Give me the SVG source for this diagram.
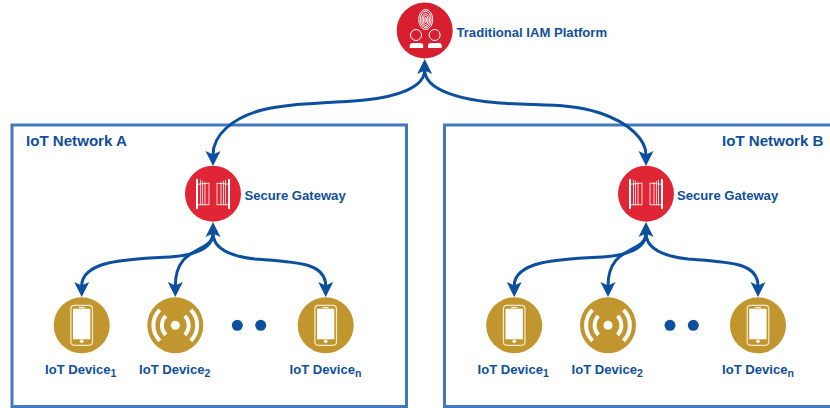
<svg xmlns="http://www.w3.org/2000/svg" width="830" height="408" viewBox="0 0 830 408">
<style>
text{font-family:"Liberation Sans",Arial,Helvetica,sans-serif;font-weight:700;fill:#0F4F9C}
.t{font-size:13.1px}.d{font-size:13.1px}.n{font-size:15.1px}.s{font-size:10.500px}
.box{fill:none;stroke:#4279BD;stroke-width:3}
.red{fill:#E02635}.gold{fill:#C2962E}
.c{fill:none;stroke:#0B4F9E;stroke-width:3}
.dot{fill:#0B4F9E}
.w{fill:none;stroke:#fff}
</style>
<defs>
<marker id="arrow" markerUnits="userSpaceOnUse" markerWidth="22" markerHeight="22" viewBox="-5 -9 22 18" refX="4" refY="0" orient="auto-start-reverse"><path d="M0 -7.500L15 0L0 7.500L3.500 0Z" fill="#0B4F9E"/></marker>
<g id="leaf">
<path d="M-17 -14.500L-15 -15L-15 15L-17 15.500Z" fill="#fff"/>
<path d="M-15 -9.500L-4 -10.500M-15 11L-4 11" class="w" stroke-width=".8"/>
<path d="M-12.500 -14V11.500M-10.500 -13V11.500M-8 -12V11.500M-4 -11V11.500" class="w" stroke-width=".8"/>
</g>
<g id="gate">
<circle r="28" class="red"/>
<use href="#leaf"/>
<use href="#leaf" transform="scale(-1 1)"/>
</g>
<g id="phone">
<circle r="28" class="gold"/>
<rect x="-10.800" y="-20" width="21.600" height="40" rx="3.500" fill="none" stroke="#F6EBCF" stroke-width="1.200"/>
<rect x="-8.700" y="-16.600" width="17.300" height="30.600" fill="#fff"/>
<rect x="-3" y="-18.200" width="6" height="1" fill="#fff"/>
<circle cy="16" r="1.800" fill="#fff"/>
</g>
<g id="radio">
<circle r="28" class="gold"/>
<circle r="4.500" fill="#fff"/>
<path d="M-9.500 -9.500A13.500 13.500 0 0 0 -9.500 9.500M9.500 -9.500A13.500 13.500 0 0 1 9.500 9.500M-15.500 -15.500A22 22 0 0 0 -15.500 15.500M15.500 -15.500A22 22 0 0 1 15.500 15.500" class="w" stroke-width="4"/>
</g>
</defs>

<g id="network-a"><rect class="box" x="12" y="125" width="394.500" height="281.500"/><text class="n" x="26" y="146">IoT Network A</text></g>
<g id="network-b"><rect class="box" x="444.500" y="125" width="400" height="281.500"/><text class="n" x="722" y="146">IoT Network B</text></g>

<g id="connectors">
<path class="c" marker-start="url(#arrow)" marker-end="url(#arrow)" d="M424.700 70C424.700 88 395 97 365 100C320 104 290 103 262 110C232 118 213 135 213 155"/>
<path class="c" marker-end="url(#arrow)" d="M424.700 70C424.700 90 460 100 500 103C540 106 570 103 600 113C630 123 646 140 646 155"/>
<path class="c" marker-start="url(#arrow)" marker-end="url(#arrow)" d="M213 233C213 248 198 255 170 257C130 259 81.700 260 81.700 286"/>
<path class="c" marker-end="url(#arrow)" d="M213 233C213 254 175.300 244 175.300 286"/>
<path class="c" marker-end="url(#arrow)" d="M213 233C213 248 228 256 255 259C295 262 325.700 262 325.700 286"/>
<path class="c" marker-start="url(#arrow)" marker-end="url(#arrow)" d="M646 233C646 248 631 255 603 257C563 259 514.200 260 514.200 286"/>
<path class="c" marker-end="url(#arrow)" d="M646 233C646 254 608 244 608 286"/>
<path class="c" marker-end="url(#arrow)" d="M646 233C646 248 661 256 688 259C728 262 758 262 758 286"/>
</g>

<g id="iam-platform">
<circle cx="424.700" cy="30.500" r="28" fill="#D81F30"/>
<g class="w" stroke-width="1"><ellipse cx="425.700" cy="19.500" rx="7" ry="10"/><ellipse cx="425.700" cy="19.500" rx="5.400" ry="8.300"/><ellipse cx="425.700" cy="20" rx="3.800" ry="6.500"/><ellipse cx="425.700" cy="20" rx="2.200" ry="4.600"/><ellipse cx="425.700" cy="20" rx=".8" ry="2.600"/></g>
<circle cx="416" cy="35" r="5.500" class="w" stroke-width="1"/>
<circle cx="434.600" cy="35" r="5.500" class="w" stroke-width="1"/>
<path d="M409.700 48V45.500Q409.700 43 412.500 43H420.500Q423.200 43 423.200 45.500V48Z" fill="#fff"/>
<path d="M428 48V45.500Q428 43 430.800 43H439Q441.700 43 441.700 45.500V48Z" fill="#fff"/>
<text class="t" x="456.500" y="36.500">Traditional IAM Platform</text>
</g>

<g id="gateway-a"><use href="#gate" x="213" y="193.700"/><text class="d" x="244.500" y="200">Secure Gateway</text></g>
<g id="gateway-b"><use href="#gate" x="646" y="193.700"/><text class="d" x="677" y="200">Secure Gateway</text></g>

<g id="device-a1"><use href="#phone" x="81.700" y="325.300"/><text class="d" x="45" y="373.500">IoT Device<tspan class="s" dy="3">1</tspan></text></g>
<g id="device-a2"><use href="#radio" x="175.300" y="325.300"/><text class="d" x="139" y="373.500">IoT Device<tspan class="s" dy="3">2</tspan></text></g>
<g id="dots-a"><circle class="dot" cx="237.300" cy="325.300" r="5.500"/><circle class="dot" cx="260.700" cy="325.300" r="5.500"/></g>
<g id="device-an"><use href="#phone" x="325.700" y="325.300"/><text class="d" x="289.500" y="373.500">IoT Device<tspan class="s" dy="3">n</tspan></text></g>

<g id="device-b1"><use href="#phone" x="514.200" y="325.300"/><text class="d" x="477.500" y="373.500">IoT Device<tspan class="s" dy="3">1</tspan></text></g>
<g id="device-b2"><use href="#radio" x="608" y="325.300"/><text class="d" x="571.500" y="373.500">IoT Device<tspan class="s" dy="3">2</tspan></text></g>
<g id="dots-b"><circle class="dot" cx="670" cy="325.300" r="5.500"/><circle class="dot" cx="693.300" cy="325.300" r="5.500"/></g>
<g id="device-bn"><use href="#phone" x="758" y="325.300"/><text class="d" x="722" y="373.500">IoT Device<tspan class="s" dy="3">n</tspan></text></g>
</svg>
